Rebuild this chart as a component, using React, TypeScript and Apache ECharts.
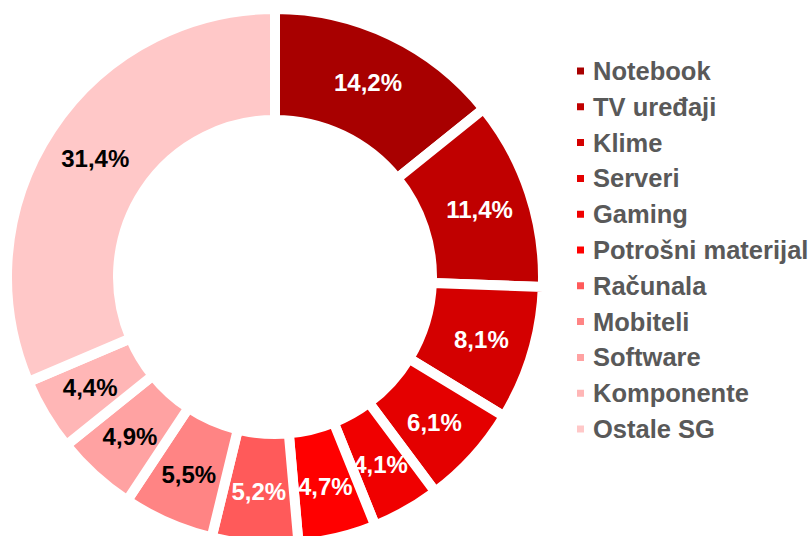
import React, { useEffect, useRef } from "react";
import * as echarts from "echarts";

const categories = [
  "Notebook",
  "TV uređaji",
  "Klime",
  "Serveri",
  "Gaming",
  "Potrošni materijal",
  "Računala",
  "Mobiteli",
  "Software",
  "Komponente",
  "Ostale SG",
];
const shares = [14.2, 11.4, 8.1, 6.1, 4.1, 4.7, 5.2, 5.5, 4.9, 4.4, 31.4];
const colors = [
  "#A80000",
  "#C00000",
  "#D40000",
  "#E40000",
  "#F00000",
  "#FF0000",
  "#FF5A5A",
  "#FF8484",
  "#FFA2A2",
  "#FFB6B6",
  "#FFC8C8",
];
const labelColors = [
  "#FFFFFF",
  "#FFFFFF",
  "#FFFFFF",
  "#FFFFFF",
  "#FFFFFF",
  "#FFFFFF",
  "#FFFFFF",
  "#000000",
  "#000000",
  "#000000",
  "#000000",
];

export default function App() {
  const ref = useRef<HTMLDivElement>(null);
  useEffect(() => {
    if (!ref.current) return;
    const chart = echarts.init(ref.current, null, { renderer: "svg" });
    const data = categories.map((name, i) => ({
      name,
      value: shares[i],
      itemStyle: { color: colors[i] },
      label: { color: labelColors[i] },
    }));
    chart.setOption({
      animation: false,
      backgroundColor: "#FFFFFF",
      legend: {
        orient: "vertical",
        left: 575,
        top: 58,
        padding: 0,
        itemWidth: 9,
        itemHeight: 9,
        itemGap: 9.8,
        icon: "rect",
        data: categories,
        textStyle: {
          fontFamily: "Liberation Sans, Arial, sans-serif",
          fontWeight: "bold",
          fontSize: 25.5,
          lineHeight: 26,
          color: "#595959",
          padding: [0, 0, 0, 3],
        },
      },
      series: [
        {
          type: "pie",
          center: [275, 277],
          radius: [157, 268],
          startAngle: 90,
          clockwise: true,
          avoidLabelOverlap: false,
          itemStyle: { borderColor: "#FFFFFF", borderWidth: 10 },
          label: {
            show: true,
            position: "inside",
            fontFamily: "Liberation Sans, Arial, sans-serif",
            fontWeight: "bold",
            fontSize: 24,
            formatter: (p: any) => p.value.toFixed(1).replace(".", ",") + "%",
          },
          labelLine: { show: false },
          emphasis: { disabled: true },
          data,
        },
      ],
    });
    return () => chart.dispose();
  }, []);
  return (
    <div
      ref={ref}
      style={{ position: "fixed", left: 0, top: 0, width: 809, height: 536 }}
    />
  );
}
